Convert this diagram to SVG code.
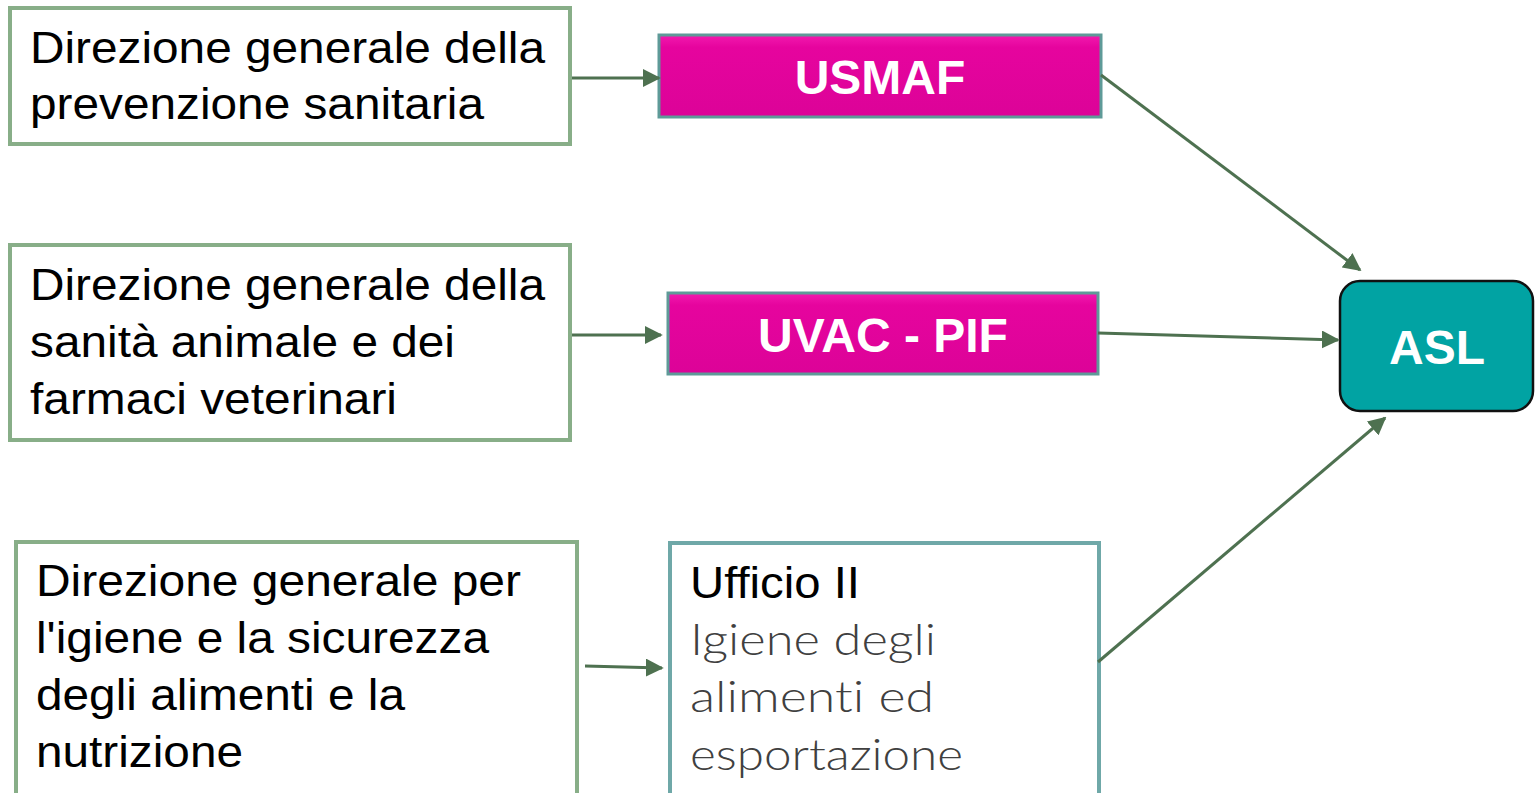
<svg xmlns="http://www.w3.org/2000/svg" width="1535" height="793" viewBox="0 0 1535 793">
<defs>
<style>
.src{fill:#fff;stroke:#88AE88;stroke-width:4}
.t{font-family:"Liberation Sans",Arial,sans-serif;font-size:45px;fill:#000}
.lt{font-family:Lato,"Open Sans",sans-serif;font-weight:300;font-size:44px;fill:#404040;font-variant-ligatures:none;font-feature-settings:"liga" 0}
.mag{stroke:#5E9A98;stroke-width:3;fill:url(#mg)}
.wt{font-family:"Liberation Sans",Arial,sans-serif;font-weight:bold;font-size:48px;fill:#fff;text-anchor:middle}
.c{stroke:#4E7150;stroke-width:3;fill:none;marker-end:url(#ah)}
</style>
<marker id="ah" viewBox="0 0 10 10" refX="9" refY="5" markerWidth="6" markerHeight="6" orient="auto" markerUnits="strokeWidth">
<path d="M0,0 L10,5 L0,10 z" fill="#4E7150"/>
</marker>
<linearGradient id="mg" x1="0" y1="0" x2="0" y2="1">
<stop offset="0" stop-color="#F21AAE"/>
<stop offset="0.15" stop-color="#E6049E"/>
<stop offset="1" stop-color="#DC0398"/>
</linearGradient>
</defs>
<g id="n1"><rect class="src" x="10" y="8" width="560" height="136"/>
<text class="t" x="30" y="63" textLength="515" lengthAdjust="spacingAndGlyphs">Direzione generale della</text>
<text class="t" x="30" y="119" textLength="454" lengthAdjust="spacingAndGlyphs">prevenzione sanitaria</text></g>
<g id="n2"><rect class="src" x="10" y="245" width="560" height="195"/>
<text class="t" x="30" y="300" textLength="515" lengthAdjust="spacingAndGlyphs">Direzione generale della</text>
<text class="t" x="30" y="357" textLength="425" lengthAdjust="spacingAndGlyphs">sanità animale e dei</text>
<text class="t" x="30" y="414" textLength="367" lengthAdjust="spacingAndGlyphs">farmaci veterinari</text></g>
<g id="n3"><rect class="src" x="16" y="542" width="561" height="254"/>
<text class="t" x="36" y="596" textLength="485" lengthAdjust="spacingAndGlyphs">Direzione generale per</text>
<text class="t" x="36" y="653" textLength="453" lengthAdjust="spacingAndGlyphs">l'igiene e la sicurezza</text>
<text class="t" x="36" y="710" textLength="369" lengthAdjust="spacingAndGlyphs">degli alimenti e la</text>
<text class="t" x="36" y="767" textLength="207" lengthAdjust="spacingAndGlyphs">nutrizione</text></g>
<g id="usmaf"><rect class="mag" x="659" y="35" width="442" height="82"/>
<text class="wt" x="880" y="94">USMAF</text></g>
<g id="uvac"><rect class="mag" x="668" y="293" width="430" height="81"/>
<text class="wt" x="883" y="352">UVAC - PIF</text></g>
<g id="ufficio"><rect x="670" y="543" width="429" height="253" fill="#fff" stroke="#6FA8A8" stroke-width="4"/>
<text class="t" x="690" y="598" textLength="170" lengthAdjust="spacingAndGlyphs">Ufficio II</text>
<text class="lt" x="690" y="655" textLength="246" lengthAdjust="spacingAndGlyphs">Igiene degli</text>
<text class="lt" x="690" y="712" textLength="244" lengthAdjust="spacingAndGlyphs">alimenti ed</text>
<text class="lt" x="690" y="770" textLength="273" lengthAdjust="spacingAndGlyphs">esportazione</text></g>
<g id="asl"><rect x="1340" y="281" width="193" height="130" rx="20" fill="#01A3A3" stroke="#111" stroke-width="2.5"/>
<text class="wt" x="1437" y="364">ASL</text></g>
<g id="connectors">
<line class="c" x1="572" y1="78" x2="659" y2="78"/>
<line class="c" x1="572" y1="335" x2="661" y2="335"/>
<line class="c" x1="585" y1="666" x2="662" y2="668"/>
<line class="c" x1="1101" y1="75" x2="1360" y2="270"/>
<line class="c" x1="1098" y1="333" x2="1338" y2="340"/>
<line class="c" x1="1098" y1="662" x2="1385" y2="418"/>
</g>
</svg>
